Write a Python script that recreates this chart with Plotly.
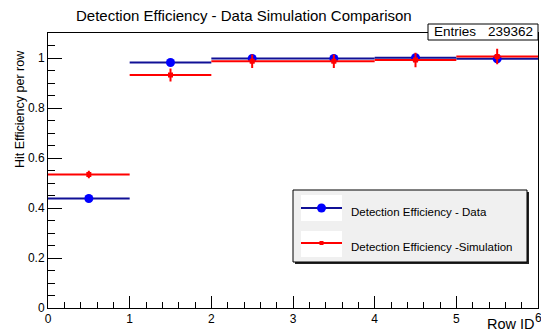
import plotly.graph_objects as go

# bins (row ids) and efficiencies
row_centers = [0.5, 1.5, 2.5, 3.5, 4.5, 5.5]
row_halfwidth = [0.5, 0.5, 0.5, 0.5, 0.5, 0.5]
eff_data = [0.438, 0.982, 0.998, 0.998, 1.001, 0.997]
err_data = [0.004, 0.003, 0.002, 0.002, 0.002, 0.002]
eff_sim = [0.534, 0.932, 0.987, 0.987, 0.992, 1.006]
err_sim = [0.015, 0.026, 0.027, 0.027, 0.029, 0.031]

entries = 239362
title = 'Detection Efficiency - Data Simulation Comparison'
FONT = 'Liberation Sans, Arial, Helvetica, sans-serif'

W, H = 541, 333
L, R, T, B = 48, 538, 33, 308   # plot frame in pixels


def px(x):
	return (x - L) / (R - L)


def py(y):
	return (B - y) / (B - T)


fig = go.Figure()

fig.add_trace(go.Scatter(
	x=row_centers, y=eff_data, mode='markers', name='Detection Efficiency - Data',
	marker=dict(color='#0000ff', size=9, symbol='circle'),
	error_x=dict(type='data', array=row_halfwidth, width=0, thickness=2, color='#101096'),
	error_y=dict(type='data', array=err_data, width=0, thickness=2, color='#101096'),
))
fig.add_trace(go.Scatter(
	x=row_centers, y=eff_sim, mode='markers', name='Detection Efficiency -Simulation',
	marker=dict(color='#ff0000', size=5, symbol='square'),
	error_x=dict(type='data', array=row_halfwidth, width=0, thickness=2, color='#ff0000'),
	error_y=dict(type='data', array=err_sim, width=0, thickness=2, color='#ff0000'),
))

shapes = []
annotations = []

# legend box (ROOT style, with shadow)
lx0, ly0, lx1, ly1 = 293, 190, 527, 262
shapes.append(dict(type='rect', xref='paper', yref='paper', x0=px(lx0 + 2), x1=px(lx1 + 2),
	y0=py(ly0 + 2), y1=py(ly1 + 2), fillcolor='#222222', line=dict(width=0)))
shapes.append(dict(type='rect', xref='paper', yref='paper', x0=px(lx0), x1=px(lx1),
	y0=py(ly0), y1=py(ly1), fillcolor='#f0f0f0', line=dict(color='black', width=1)))
legend_rows = [
	('Detection Efficiency - Data', 195, 221, 208, '#101096', '#0000ff', 'circle', 9),
	('Detection Efficiency -Simulation', 231, 257, 243, '#ff0000', '#ff0000', 'rect', 4),
]
for label, by0, by1, yl, lcol, mcol, mshape, msize in legend_rows:
	shapes.append(dict(type='rect', xref='paper', yref='paper', x0=px(301), x1=px(342),
		y0=py(by0), y1=py(by1), fillcolor='white', line=dict(width=0)))
	shapes.append(dict(type='line', xref='paper', yref='paper', x0=px(301), x1=px(342),
		y0=py(yl), y1=py(yl), line=dict(color=lcol, width=2)))
	shapes.append(dict(type='circle' if mshape == 'circle' else 'rect', xref='paper', yref='paper',
		x0=px(321.5 - msize / 2), x1=px(321.5 + msize / 2),
		y0=py(yl - msize / 2), y1=py(yl + msize / 2), fillcolor=mcol, line=dict(width=0)))
	annotations.append(dict(text=label, xref='paper', yref='paper', x=px(349), y=py(yl + 4),
		xanchor='left', yanchor='middle', showarrow=False,
		font=dict(family=FONT, size=11.5, color='black')))

# stats box
shapes.append(dict(type='rect', xref='paper', yref='paper', x0=px(428), x1=px(538),
	y0=py(40), y1=py(24), fillcolor='white', line=dict(color='black', width=1)))
annotations.append(dict(text='Entries', xref='paper', yref='paper', x=px(432), y=py(32),
	xanchor='left', yanchor='middle', showarrow=False, font=dict(family=FONT, size=13.5, color='black')))
annotations.append(dict(text=str(entries), xref='paper', yref='paper', x=px(535), y=py(32),
	xanchor='right', yanchor='middle', showarrow=False, font=dict(family=FONT, size=13.5, color='black')))

# title and axis titles
annotations.append(dict(text=title, xref='paper', yref='paper', x=px(244), y=py(15),
	xanchor='center', yanchor='middle', showarrow=False, font=dict(family=FONT, size=15, color='black')))
annotations.append(dict(text='Hit Efficiency per row', xref='paper', yref='paper', x=px(20), y=py(109),
	xanchor='center', yanchor='middle', textangle=-90, showarrow=False,
	font=dict(family=FONT, size=12.5, color='black')))
annotations.append(dict(text='Row ID', xref='paper', yref='paper', x=px(537), y=py(324),
	xanchor='right', yanchor='middle', showarrow=False, font=dict(family=FONT, size=14.5, color='black')))
# last x tick label sits on the page edge, plotly would drop it
annotations.append(dict(text='6', xref='x', yref='paper', x=6, y=py(318),
	xanchor='center', yanchor='middle', showarrow=False, font=dict(family=FONT, size=12, color='black')))

fig.update_layout(
	width=W, height=H,
	margin=dict(l=L, r=W - R, t=T, b=H - B, pad=0),
	paper_bgcolor='white', plot_bgcolor='white',
	showlegend=False,
	font=dict(family=FONT, size=11, color='black'),
	shapes=shapes, annotations=annotations,
)
fig.update_xaxes(range=[0, 6], dtick=1, tick0=0, ticks='inside', ticklen=12, tickwidth=1,
	tickcolor='black', showgrid=False, zeroline=False, showline=True, linecolor='black',
	linewidth=1, mirror=True, tickfont=dict(size=12),
	minor=dict(dtick=0.2, ticks='inside', ticklen=6, tickcolor='black', showgrid=False))
fig.update_yaxes(range=[0, 1.1], dtick=0.2, tick0=0, ticks='inside', ticklen=14, tickwidth=1,
	tickcolor='black', showgrid=False, zeroline=False, showline=True, linecolor='black',
	linewidth=1, mirror=True, tickfont=dict(size=12),
	minor=dict(dtick=0.05, ticks='inside', ticklen=7, tickcolor='black', showgrid=False))

fig.write_html('out.html', config={'displayModeBar': False},
	post_script="document.body.style.margin='0';")
